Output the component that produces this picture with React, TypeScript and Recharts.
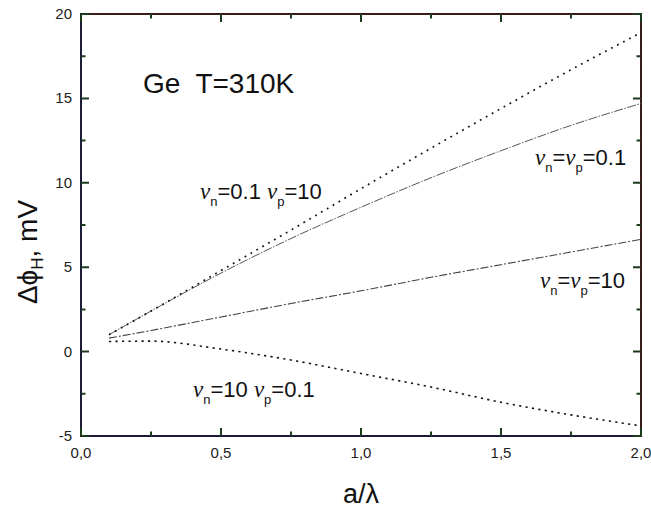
import React from "react";
import { LineChart, Line, XAxis, YAxis } from "recharts";

// a/λ sample positions
const xValues = [0.1, 0.25, 0.5, 0.75, 1.0, 1.25, 1.5, 1.75, 2.0];
// ν_n=0.1 ν_p=10 (dotted, upper)
const seriesNu01_10 = [1.0, 2.4, 4.8, 7.2, 9.65, 12.05, 14.4, 16.7, 18.9];
// ν_n=ν_p=0.1
const seriesNuEq01 = [1.0, 2.4, 4.65, 6.7, 8.55, 10.3, 11.9, 13.4, 14.7];
// ν_n=ν_p=10
const seriesNuEq10 = [0.8, 1.25, 2.05, 2.85, 3.6, 4.4, 5.15, 5.9, 6.65];
// ν_n=10 ν_p=0.1 (dotted, lower)
const seriesNu10_01 = [0.6, 0.62, 0.15, -0.5, -1.3, -2.1, -3.0, -3.75, -4.4];

const xTicks = [0, 0.25, 0.5, 0.75, 1.0, 1.25, 1.5, 1.75, 2.0];
const xMajor = [0, 0.5, 1.0, 1.5, 2.0];
const yTicks = [-5, -2.5, 0, 2.5, 5, 7.5, 10, 12.5, 15, 17.5, 20];
const yMajor = [-5, 0, 5, 10, 15, 20];
const xDomain: [number, number] = [0, 2];
const yDomain: [number, number] = [-5, 20];

const data = xValues.map((x, i) => ({
  x,
  a: seriesNu01_10[i],
  b: seriesNuEq01[i],
  c: seriesNuEq10[i],
  d: seriesNu10_01[i],
}));

const SANS = "'Liberation Sans', Arial, Helvetica, sans-serif";
const SERIF = "'Liberation Serif', 'Times New Roman', serif";
const AXIS_INK = "#1c1c3a";
const FRAME_INK = "#3a1c1c";
const TICK_INK = "#1c3a1c";
const MAJ = 8;
const MIN = 4.5;

const CHART_W = 651;
const CHART_H = 509;
const MARGIN = { top: 14, right: 10, bottom: 33, left: 31 };
const X_AXIS_H = 40;
const Y_AXIS_W = 50;
const PLOT_L = MARGIN.left + Y_AXIS_W;
const PLOT_T = MARGIN.top;
const PLOT_W = CHART_W - MARGIN.left - MARGIN.right - Y_AXIS_W;
const PLOT_H = CHART_H - MARGIN.top - MARGIN.bottom - X_AXIS_H;
const TICK_OFF = 8; // default tickSize (6) + tickMargin (2)

const isMajor = (list: number[], v: number) => list.some((m) => Math.abs(m - v) < 1e-6);
const fmtX = (v: number) => v.toFixed(1).replace(".", ",");

// bottom tick + mirrored top tick + label
const BottomTick = (props: any) => {
  const { x, payload } = props;
  const y = props.y - TICK_OFF;
  const major = isMajor(xMajor, payload.value);
  const len = major ? MAJ : MIN;
  const yTop = y - PLOT_H;
  return (
    <g>
      <path d={`M${x},${y}L${x},${y - len}M${x},${yTop}L${x},${yTop + len}`} stroke={TICK_INK} strokeWidth={2} fill="none" />
      {major && (
        <text x={x} y={y + 22} textAnchor="middle" fontFamily={SANS} fontSize={15} fill="#222">
          {fmtX(payload.value)}
        </text>
      )}
    </g>
  );
};

// left tick + mirrored right tick + label
const LeftTick = (props: any) => {
  const { y, payload } = props;
  const x = props.x + TICK_OFF;
  const major = isMajor(yMajor, payload.value);
  const len = major ? MAJ : MIN;
  const xRight = x + PLOT_W;
  return (
    <g>
      <path d={`M${x},${y}L${x + len},${y}M${xRight},${y}L${xRight - len},${y}`} stroke={TICK_INK} strokeWidth={2} fill="none" />
      {major && (
        <text x={x - 9} y={y + 5} textAnchor="end" fontFamily={SANS} fontSize={15} fill="#222">
          {String(payload.value)}
        </text>
      )}
    </g>
  );
};

const NuLabel = ({ x, y, parts }: { x: number; y: number; parts: [string, string][] }) => (
  <text x={x} y={y} fontFamily={SANS} fontSize={22} fill="#111">
    {parts.map(([sub, post], i) => (
      <React.Fragment key={i}>
        <tspan fontFamily={SERIF} fontStyle="italic" fontSize={23}>ν</tspan>
        <tspan fontSize={13} dy={7}>{sub}</tspan>
        <tspan dy={-7}>{post}</tspan>
      </React.Fragment>
    ))}
  </text>
);

export default function App() {
  return (
    <div style={{ position: "absolute", left: 0, top: 0, width: CHART_W, height: CHART_H }}>
      <LineChart width={CHART_W} height={CHART_H} data={data} margin={MARGIN}>
        <XAxis
          dataKey="x"
          type="number"
          domain={xDomain}
          ticks={xTicks}
          interval={0}
          tick={BottomTick}
          tickLine={false}
          height={X_AXIS_H}
          stroke={AXIS_INK}
          strokeWidth={2}
        />
        <YAxis
          type="number"
          domain={yDomain}
          ticks={yTicks}
          interval={0}
          tick={LeftTick}
          tickLine={false}
          width={Y_AXIS_W}
          stroke={AXIS_INK}
          strokeWidth={2}
        />
        <Line type="monotone" dataKey="b" stroke="#555" strokeWidth={1} strokeDasharray="9 1.5 1.5 1.5" dot={false} isAnimationActive={false} />
        <Line type="monotone" dataKey="c" stroke="#444" strokeWidth={1.1} strokeDasharray="8 2 2 2" dot={false} isAnimationActive={false} />
        <Line type="monotone" dataKey="a" stroke="#111" strokeWidth={1.7} strokeDasharray="1.8 5" dot={false} isAnimationActive={false} />
        <Line type="monotone" dataKey="d" stroke="#111" strokeWidth={1.6} strokeDasharray="2.2 4.3" dot={false} isAnimationActive={false} />
        <rect x={PLOT_L} y={PLOT_T} width={PLOT_W} height={PLOT_H} fill="none" stroke={FRAME_INK} strokeWidth={2} />
        <text x={143} y={93} fontFamily={SANS} fontSize={28} fill="#111" xmlSpace="preserve">
          Ge  T=310K
        </text>
        <NuLabel x={200} y={199} parts={[["n", "=0.1 "], ["p", "=10"]]} />
        <NuLabel x={535} y={165} parts={[["n", "="], ["p", "=0.1"]]} />
        <NuLabel x={540} y={288} parts={[["n", "="], ["p", "=10"]]} />
        <NuLabel x={193} y={397} parts={[["n", "=10 "], ["p", "=0.1"]]} />
        <text x={361} y={503} textAnchor="middle" fontFamily={SANS} fontSize={27} fill="#111">
          a/λ
        </text>
        <text transform="translate(37,252) rotate(-90)" textAnchor="middle" fontFamily={SANS} fontSize={28} fill="#111">
          Δϕ<tspan fontSize={17} dy={6}>H</tspan>
          <tspan dy={-6}>, mV</tspan>
        </text>
      </LineChart>
    </div>
  );
}
